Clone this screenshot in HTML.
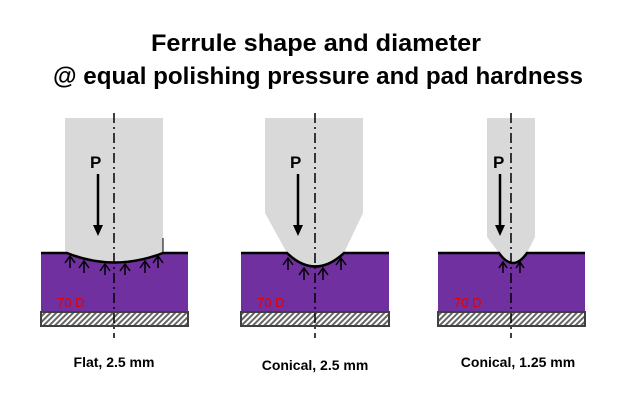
<!DOCTYPE html>
<html><head><meta charset="utf-8"><style>body{margin:0;background:#fff}svg{display:block}</style></head><body>
<svg width="635" height="406" viewBox="0 0 635 406" xmlns="http://www.w3.org/2000/svg" font-family="Liberation Sans, sans-serif">
<defs>
<pattern id="h" width="4" height="4" patternUnits="userSpaceOnUse" patternTransform="rotate(45)">
<rect width="4" height="4" fill="#fff"/><rect width="2" height="4" fill="#666"/></pattern>
</defs>
<text x="316" y="51" font-size="24" font-weight="bold" text-anchor="middle" textLength="330" lengthAdjust="spacingAndGlyphs">Ferrule shape and diameter</text>
<text x="318" y="84" font-size="24" font-weight="bold" text-anchor="middle" textLength="530" lengthAdjust="spacingAndGlyphs">@ equal polishing pressure and pad hardness</text>

<!-- Panel 1 -->
<rect x="41" y="253" width="147" height="59" fill="#7030a0"/>
<rect x="41" y="312" width="147" height="14" fill="url(#h)" stroke="#404040" stroke-width="2"/>
<path d="M65,118 H163 V253 Q114,272 65,253 Z" fill="#d9d9d9"/>
<path d="M41,253 H67 Q114,272 163,253 H188" fill="none" stroke="#000" stroke-width="2.5"/>
<line x1="163" y1="238" x2="163" y2="253" stroke="#000" stroke-width="1"/>
<g stroke="#000" stroke-width="1.5" fill="none">
<path d="M70,268 V256 M65,263 L70,256 L75,263"/>
<path d="M84,273 V261 M79,268 L84,261 L89,268"/>
<path d="M105,275 V264 M100,271 L105,264 L110,271"/>
<path d="M125,275 V264 M120,271 L125,264 L130,271"/>
<path d="M145,273 V261 M140,268 L145,261 L150,268"/>
<path d="M158,268 V256 M153,263 L158,256 L163,263"/>
</g>
<text x="57" y="307" font-size="13" fill="#e00000">70 D</text>
<line x1="114" y1="113" x2="114" y2="338" stroke="#000" stroke-width="1.5" stroke-dasharray="10,4,2,4"/>
<text x="90" y="168" font-size="17" font-weight="bold">P</text>
<line x1="98" y1="174" x2="98" y2="226" stroke="#000" stroke-width="2.5"/>
<path d="M93,225 L98,236 L103,225 Z" fill="#000"/>
<text x="114" y="367" font-size="14" font-weight="bold" text-anchor="middle">Flat, 2.5 mm</text>

<!-- Panel 2 -->
<rect x="241" y="253" width="148" height="59" fill="#7030a0"/>
<rect x="241" y="312" width="148" height="14" fill="url(#h)" stroke="#404040" stroke-width="2"/>
<path d="M265,118 H363 V213 L344,253 Q315,280 287,253 L265,213 Z" fill="#d9d9d9"/>
<path d="M241,253 H287 Q315,280 344,253 H389" fill="none" stroke="#000" stroke-width="2.5"/>
<g stroke="#000" stroke-width="1.5" fill="none">
<path d="M288,270 V258 M283,265 L288,258 L293,265"/>
<path d="M304,280 V268 M299,275 L304,268 L309,275"/>
<path d="M323,280 V268 M318,275 L323,268 L328,275"/>
<path d="M341,270 V258 M336,265 L341,258 L346,265"/>
</g>
<text x="257" y="307" font-size="13" fill="#e00000">70 D</text>
<line x1="315" y1="113" x2="315" y2="338" stroke="#000" stroke-width="1.5" stroke-dasharray="10,4,2,4"/>
<text x="290" y="168" font-size="17" font-weight="bold">P</text>
<line x1="298" y1="174" x2="298" y2="226" stroke="#000" stroke-width="2.5"/>
<path d="M293,225 L298,236 L303,225 Z" fill="#000"/>
<text x="315" y="370" font-size="14" font-weight="bold" text-anchor="middle">Conical, 2.5 mm</text>

<!-- Panel 3 -->
<rect x="438" y="253" width="147" height="59" fill="#7030a0"/>
<rect x="438" y="312" width="147" height="14" fill="url(#h)" stroke="#404040" stroke-width="2"/>
<path d="M487,118 H535 V237 L527,253 Q513,273 499,253 L487,237 Z" fill="#d9d9d9"/>
<path d="M438,253 H499 Q513,273 527,253 H585" fill="none" stroke="#000" stroke-width="2.5"/>
<g stroke="#000" stroke-width="1.5" fill="none">
<path d="M503,273 V262 M499,268 L503,262 L507,268"/>
<path d="M520,273 V262 M516,268 L520,262 L524,268"/>
</g>
<text x="454" y="307" font-size="13" fill="#e00000">70 D</text>
<line x1="511" y1="113" x2="511" y2="338" stroke="#000" stroke-width="1.5" stroke-dasharray="10,4,2,4"/>
<text x="493" y="168" font-size="17" font-weight="bold">P</text>
<line x1="500" y1="174" x2="500" y2="226" stroke="#000" stroke-width="2.5"/>
<path d="M495,225 L500,236 L505,225 Z" fill="#000"/>
<text x="518" y="367" font-size="14" font-weight="bold" text-anchor="middle">Conical, 1.25 mm</text>
</svg>
</body></html>
